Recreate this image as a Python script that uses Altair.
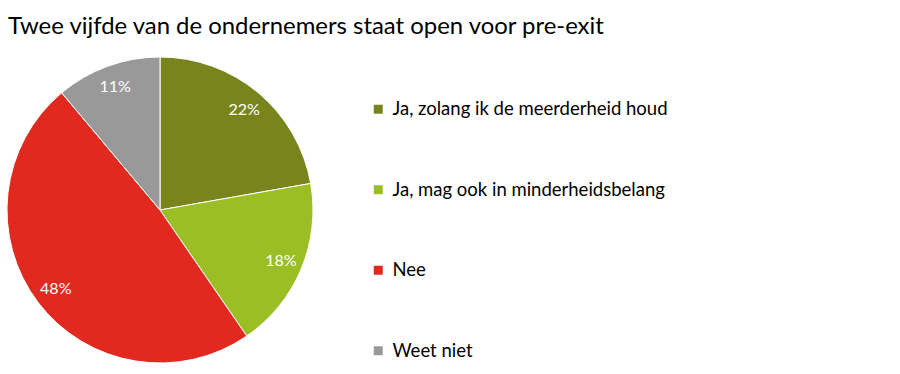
import altair as alt
import pandas as pd

title_text = "Twee vijfde van de ondernemers staat open voor pre-exit"
categories = [
    "Ja, zolang ik de meerderheid houd",
    "Ja, mag ook in minderheidsbelang",
    "Nee",
    "Weet niet",
]
values = [22, 18, 48, 11]
colors = ["#7A841D", "#9CBE25", "#E1291F", "#999999"]

df = pd.DataFrame({
    "cat": categories,
    "val": values,
    "idx": list(range(len(categories))),
    "label": [f"{v}%" for v in values],
})

FONT = "Lato"
TOP = 45

base = alt.Chart(df).encode(
    theta=alt.Theta("val:Q", stack=True),
    order=alt.Order("idx:Q"),
)

arc = base.mark_arc(radius=153, stroke="white", strokeWidth=1, x=160, y=210 - TOP).encode(
    color=alt.Color(
        "cat:N",
        scale=alt.Scale(domain=categories, range=colors),
        sort=categories,
        legend=alt.Legend(
            title=None,
            orient="none",
            legendX=369,
            legendY=100 - TOP,
            symbolType="square",
            symbolSize=81,
            symbolStrokeWidth=0,
            symbolOpacity=1,
            labelFont=FONT,
            labelFontSize=18.5,
            labelColor="black",
            labelOffset=5,
            rowPadding=61.5,
            labelLimit=400,
        ),
    )
)

text = base.mark_text(radius=131, x=160, y=210 - TOP, fontSize=16, color="white", font=FONT).encode(
    text="label:N"
)

chart = (
    alt.layer(arc, text)
    .properties(
        width=900,
        height=374 - TOP,
        padding={"left": 0, "top": TOP, "right": 0, "bottom": 0},
        autosize=alt.AutoSizeParams(type="none"),
        title=alt.TitleParams(
            title_text,
            anchor="start",
            frame="group",
            font=FONT,
            fontSize=23.9,
            fontWeight="normal",
            color="black",
            baseline="alphabetic",
            offset=11,
            dx=8,
            dy=24,
        ),
    )
    .configure_view(stroke=None)
    .configure(background="white")
)

chart.save("out.html", embed_options={"renderer": "svg", "actions": False})
